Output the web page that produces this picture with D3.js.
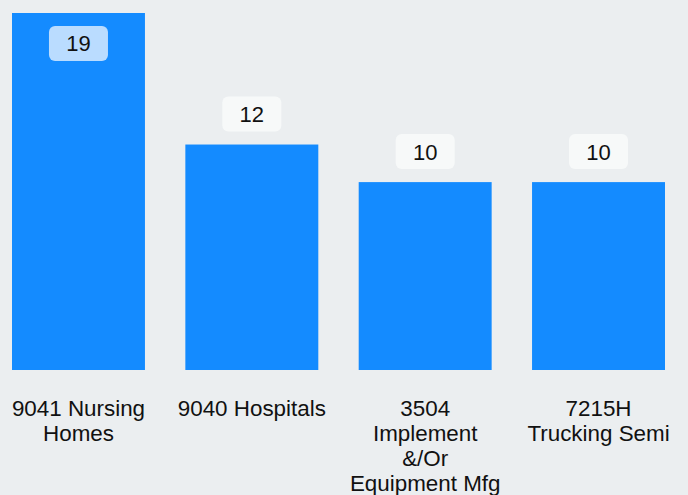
<!DOCTYPE html>
<html>
<head>
<meta charset="utf-8">
<script src="https://cdn.jsdelivr.net/npm/d3@7/dist/d3.min.js"></script>
<style>
  html, body { margin: 0; padding: 0; background: #ebeef0; }
  svg { display: block; font-family: "Liberation Sans", Arial, sans-serif; }
</style>
</head>
<body>
<svg id="chart" width="688" height="495"></svg>
<script>
// Claim counts by class code
const categories = ["9041 Nursing Homes", "9040 Hospitals", "3504 Implement &/Or Equipment Mfg", "7215H Trucking Semi"];
const values = [19, 12, 10, 10];

const width = 688, height = 495;
const svg = d3.select("#chart");

svg.append("rect").attr("width", width).attr("height", height).attr("fill", "#ebeef0");

const x = d3.scaleBand()
  .domain(categories)
  .range([12, 665])
  .paddingInner(0.233)
  .paddingOuter(0);

const y = d3.scaleLinear()
  .domain([0, 19])
  .range([370, 13]);

// Bars
svg.append("g").selectAll("rect")
  .data(categories)
  .join("rect")
  .attr("x", d => x(d))
  .attr("y", (d, i) => y(values[i]))
  .attr("width", x.bandwidth())
  .attr("height", (d, i) => y(0) - y(values[i]))
  .attr("fill", "#148bff");

// Value badges: above the bar, or inside when there is no room above
const boxW = 59, boxH = 35, gap = 13;
const badges = svg.append("g").selectAll("g")
  .data(categories)
  .join("g")
  .attr("transform", (d, i) => {
    const top = y(values[i]);
    const inside = top - gap - boxH < 0;
    const by = inside ? top + gap : top - gap - boxH;
    return `translate(${x(d) + x.bandwidth() / 2},${by})`;
  });

badges.append("rect")
  .attr("x", -boxW / 2)
  .attr("width", boxW)
  .attr("height", boxH)
  .attr("rx", 6)
  .attr("fill", (d, i) => (y(values[i]) - gap - boxH < 0) ? "#badcff" : "#f7f9f9");

badges.append("text")
  .attr("x", 0)
  .attr("y", boxH / 2)
  .attr("dy", "0.36em")
  .attr("text-anchor", "middle")
  .attr("font-size", 22)
  .attr("fill", "#111")
  .text((d, i) => values[i]);

// Category labels, wrapped to a fixed width
const xAxis = svg.append("g")
  .attr("transform", `translate(0,${y(0)})`)
  .call(d3.axisBottom(x).tickSize(0).tickPadding(0));
xAxis.select(".domain").remove();

const maxW = 154, lineH = 25;
xAxis.selectAll(".tick text")
  .attr("font-size", 22.4)
  .attr("fill", "#111")
  .attr("font-family", "\"Liberation Sans\", Arial, sans-serif")
  .each(function(d) {
    const text = d3.select(this);
    const words = d.split(/\s+/);
    text.text(null).attr("y", 0).attr("dy", null);
    let line = [];
    let lineNo = 0;
    let tspan = text.append("tspan").attr("x", 0).attr("y", 46);
    for (const w of words) {
      line.push(w);
      tspan.text(line.join(" "));
      if (tspan.node().getComputedTextLength() > maxW && line.length > 1) {
        line.pop();
        tspan.text(line.join(" "));
        line = [w];
        lineNo++;
        tspan = text.append("tspan").attr("x", 0).attr("y", 46 + lineNo * lineH).text(w);
      }
    }
  });
</script>
</body>
</html>
